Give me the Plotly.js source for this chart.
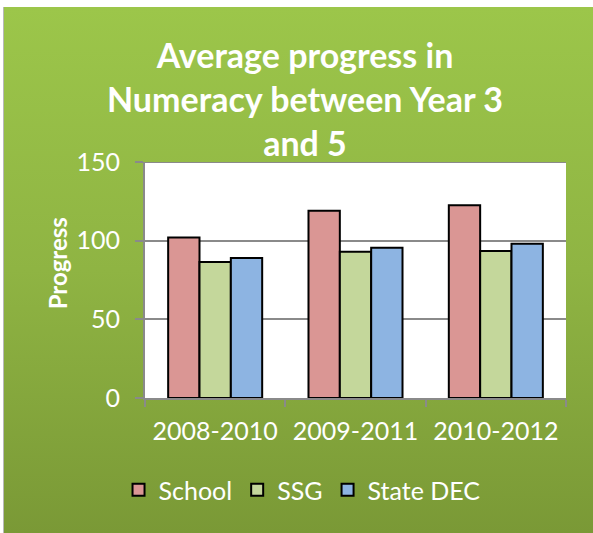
<!DOCTYPE html>
<html><head><meta charset="utf-8">
<script src="https://cdn.plot.ly/plotly-3.0.1.min.js"></script>
<style>
html,body{margin:0;padding:0;background:#fff;}
#wrap{position:absolute;left:3px;top:7px;width:590px;height:526px;background:linear-gradient(to bottom,#9cc64a 0%,#8fb443 50%,#7a9936 100%);border-left:1px solid #b8b8b8;}
#chart{position:absolute;left:0;top:0;width:593px;height:533px;}
</style></head>
<body>
<div id="wrap"></div>
<div id="chart"></div>
<script>
const categories = ["2008-2010","2009-2011","2010-2012"];
const school = [102, 119, 122.5];
const ssg = [86.5, 93, 93.5];
const stateDEC = [89, 95.5, 98];
const seriesNames = ["School","SSG","State DEC"];
const colors = ["#da9694","#c4d79b","#8db4e2"];
const yTicks = [0,50,100,150];
const titleText = "Average progress in<br>Numeracy between Year 3<br>and 5";
const yTitle = "Progress";

const FONT = 'Lato, "Open Sans", sans-serif';
const data = [school, ssg, stateDEC].map((v,i)=>({
  type:'bar', x:categories, y:v, name:seriesNames[i],
  marker:{color:colors[i], line:{color:'#000', width:2}}
}));
const layout = {
  width:593, height:533,
  paper_bgcolor:'rgba(0,0,0,0)', plot_bgcolor:'#fff',
  margin:{l:145,r:27,t:162,b:135, autoexpand:false},
  font:{family:FONT, color:'#fff', size:25},
  barmode:'group', bargap:0.33, bargroupgap:0,
  xaxis:{tickson:'boundaries', ticks:'outside', ticklen:7, tickwidth:2, tickcolor:'#8a8a8a', showline:true, linecolor:'#8a8a8a', linewidth:2,
    tickfont:{size:25,color:'#fff'}, ticklabelstandoff:10, automargin:false},
  yaxis:{range:[0,150], tickvals:yTicks, ticks:'outside', ticklen:8, tickwidth:2, tickcolor:'#8a8a8a', showline:true, linecolor:'#8a8a8a', linewidth:2,
    gridcolor:'#8a8a8a', gridwidth:2, zeroline:false, tickfont:{size:25,color:'#fff'}, ticklabelstandoff:10, automargin:false},
  showlegend:true,
  legend:{orientation:'h', x:0.373, xanchor:'center', y:-0.39, yanchor:'middle', font:{size:25,color:'#fff'}, bgcolor:'rgba(0,0,0,0)', itemwidth:30, tracegroupgap:0},
  annotations:[
    {text:'<b>'+titleText+'</b>', xref:'paper', yref:'paper', x:0.38, y:1.27, xanchor:'center', yanchor:'middle', showarrow:false, font:{size:34,color:'#fff',family:FONT}},
    {text:'<b>'+yTitle+'</b>', xref:'paper', yref:'paper', x:-0.207, y:0.57, xanchor:'center', yanchor:'middle', textangle:-90, showarrow:false, font:{size:24,color:'#fff',family:FONT}}
  ],
  shapes:[{type:'line', xref:'paper', yref:'y', x0:0, x1:1, y0:150, y1:150, line:{color:'#8a8a8a', width:2}}]
};
Plotly.newPlot('chart', data, layout, {displayModeBar:false});
</script>
</body></html>
